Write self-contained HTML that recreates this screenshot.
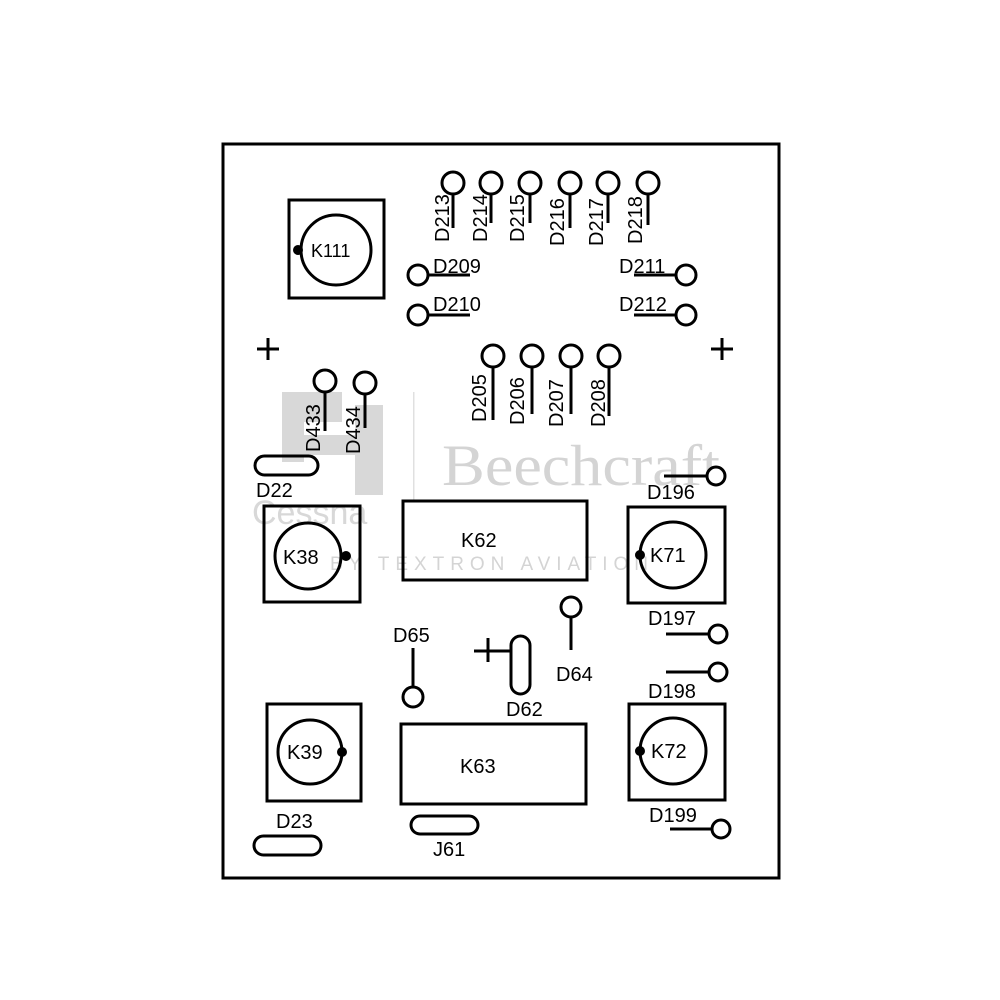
<!DOCTYPE html>
<html><head><meta charset="utf-8"><style>
html,body{margin:0;padding:0;background:#fff;}
svg{display:block;}
.lb text{font-family:"Liberation Sans",sans-serif;fill:#000;}
</style></head><body>
<svg width="1000" height="1000" viewBox="0 0 1000 1000" xmlns="http://www.w3.org/2000/svg">
<rect width="1000" height="1000" fill="#fff"/>
<!-- watermark -->
<g fill="#d8d8d8">
<rect x="282" y="392" width="60" height="30"/>
<rect x="282" y="392" width="22" height="70"/>
<rect x="355" y="405" width="28" height="90"/>
<rect x="282" y="435" width="100" height="20"/>
<text x="252" y="524" style="font-family:'Liberation Sans',sans-serif;font-size:34px;fill:#d8d8d8">Cessna</text>
<rect x="413" y="392" width="1.5" height="110" fill="#e0e0e0"/>
<text x="442" y="485" textLength="278" lengthAdjust="spacingAndGlyphs" style="font-family:'Liberation Serif',serif;font-size:58px;fill:#d4d4d4">Beechcraft</text>
<text x="330" y="570" textLength="318" lengthAdjust="spacing" style="font-family:'Liberation Sans',sans-serif;font-size:19px;fill:#d4d4d4">BY TEXTRON AVIATION</text>
</g>
<g stroke="#000" fill="none" stroke-width="3">
<rect x="223" y="144" width="556" height="734"/>
<rect x="289" y="200" width="95" height="98"/>
<circle cx="336" cy="250" r="35"/>
<path d="M257 349h22M268 338v22M711 349h22M722 338v22M474 651h37M488 638v24"/>
<rect x="264" y="506" width="96" height="96"/>
<circle cx="308" cy="556" r="33"/>
<rect x="403" y="501" width="184" height="79"/>
<rect x="628" y="507" width="97" height="96"/>
<circle cx="673" cy="555" r="33"/>
<rect x="629" y="704" width="96" height="96"/>
<circle cx="673" cy="751" r="33"/>
<rect x="267" y="704" width="94" height="97"/>
<circle cx="310" cy="752" r="32"/>
<rect x="401" y="724" width="185" height="80"/>
<rect x="255" y="456" width="63" height="19" rx="9.5"/>
<rect x="254" y="836" width="67" height="19" rx="9.5"/>
<rect x="411" y="816" width="67" height="18" rx="9"/>
<rect x="511" y="636" width="19" height="58" rx="9.5"/>
</g>
<g fill="#000">
<circle cx="298" cy="250" r="5"/>
<circle cx="346" cy="556" r="5"/>
<circle cx="640" cy="555" r="5"/>
<circle cx="640" cy="751" r="5"/>
<circle cx="342" cy="752" r="5"/>
</g>
<g stroke="#000" fill="#fff" stroke-width="3">
<path d="M453 183v45M491 183v40M530 183v40M570 183v45M608 183v40M648 183v42M493 356v64M532 356v58M571 356v58M609 356v60M325 381v50M365 383v45M418 275h52M418 315h52M686 275h-52M686 315h-52M714 476h-50M716 634h-50M716 672h-50M720 829h-50M571 607v43M413 648v48" fill="none"/>
<circle cx="453" cy="183" r="11"/><circle cx="491" cy="183" r="11"/><circle cx="530" cy="183" r="11"/>
<circle cx="570" cy="183" r="11"/><circle cx="608" cy="183" r="11"/><circle cx="648" cy="183" r="11"/>
<circle cx="493" cy="356" r="11"/><circle cx="532" cy="356" r="11"/><circle cx="571" cy="356" r="11"/><circle cx="609" cy="356" r="11"/>
<circle cx="325" cy="381" r="11"/><circle cx="365" cy="383" r="11"/>
<circle cx="418" cy="275" r="10"/><circle cx="418" cy="315" r="10"/>
<circle cx="686" cy="275" r="10"/><circle cx="686" cy="315" r="10"/>
<circle cx="716" cy="476" r="9"/><circle cx="718" cy="634" r="9"/><circle cx="718" cy="672" r="9"/><circle cx="721" cy="829" r="9"/>
<circle cx="571" cy="607" r="10"/><circle cx="413" cy="697" r="10"/>
</g>
<g class="lb" font-size="20">
<text transform="translate(449,242) rotate(-90)">D213</text>
<text transform="translate(487,242) rotate(-90)">D214</text>
<text transform="translate(524,242) rotate(-90)">D215</text>
<text transform="translate(564,246) rotate(-90)">D216</text>
<text transform="translate(603,246) rotate(-90)">D217</text>
<text transform="translate(642,244) rotate(-90)">D218</text>
<text transform="translate(486,422) rotate(-90)">D205</text>
<text transform="translate(524,425) rotate(-90)">D206</text>
<text transform="translate(563,427) rotate(-90)">D207</text>
<text transform="translate(605,427) rotate(-90)">D208</text>
<text transform="translate(320,452) rotate(-90)">D433</text>
<text transform="translate(360,454) rotate(-90)">D434</text>
<text x="433" y="273">D209</text>
<text x="433" y="311">D210</text>
<text x="619" y="273">D211</text>
<text x="619" y="311">D212</text>
<text x="256" y="497">D22</text>
<text x="647" y="499">D196</text>
<text x="648" y="625">D197</text>
<text x="648" y="698">D198</text>
<text x="649" y="822">D199</text>
<text x="393" y="642">D65</text>
<text x="556" y="681">D64</text>
<text x="506" y="716">D62</text>
<text x="276" y="828">D23</text>
<text x="433" y="856">J61</text>
<text x="311" y="257" font-size="18">K111</text>
<text x="283" y="564">K38</text>
<text x="461" y="547">K62</text>
<text x="650" y="562">K71</text>
<text x="651" y="758">K72</text>
<text x="287" y="759">K39</text>
<text x="460" y="773">K63</text>
</g>
</svg>
</body></html>
